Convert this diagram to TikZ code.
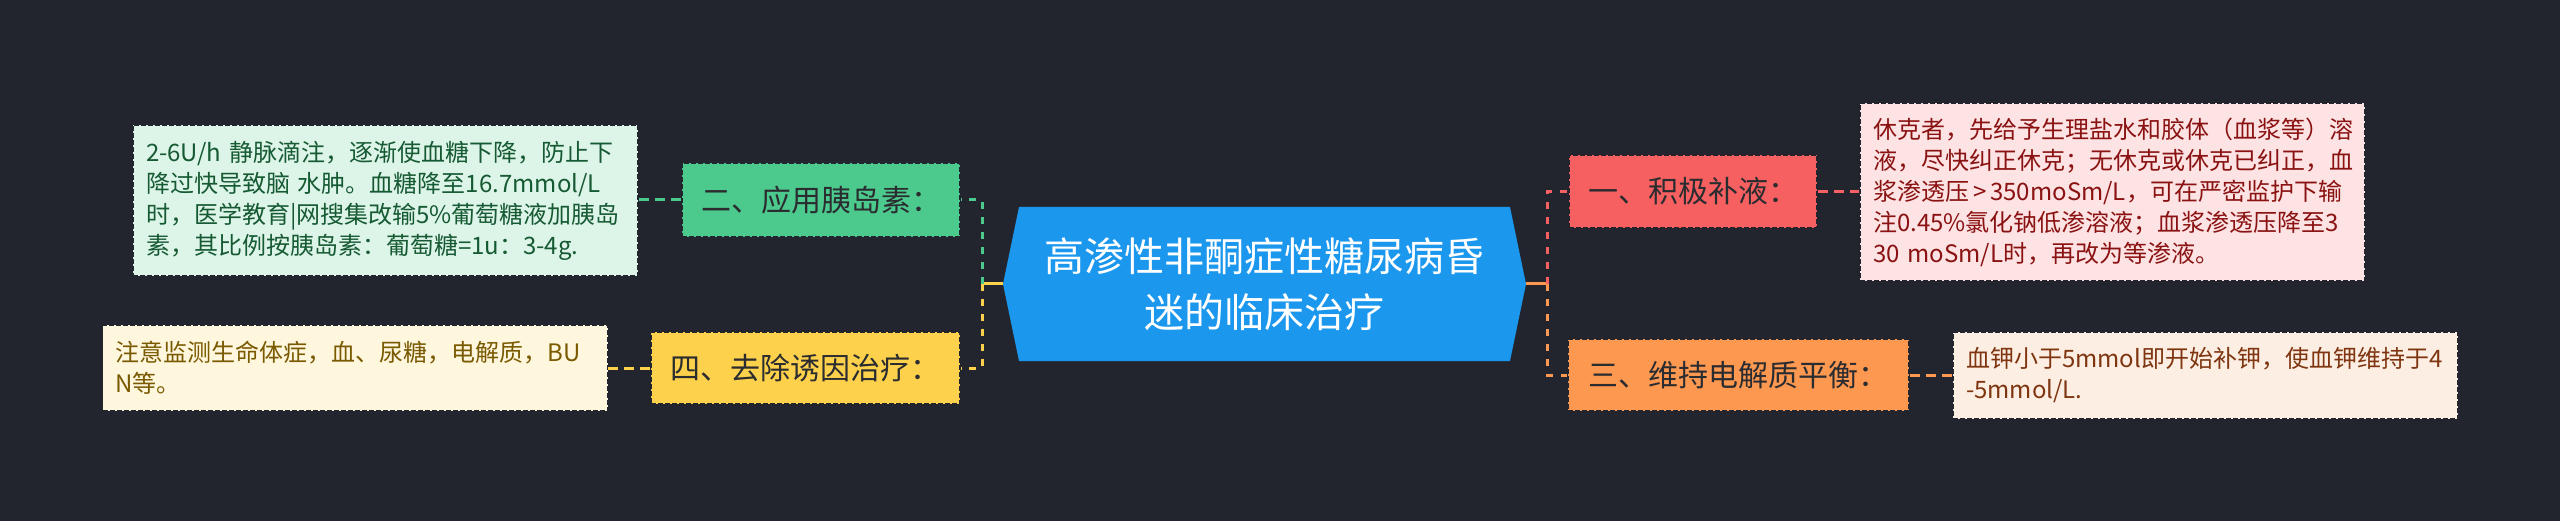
\documentclass[tikz,border=0pt]{standalone}
\usepackage{fontspec}
\setmainfont{Noto Sans CJK SC}
\usetikzlibrary{calc}
\definecolor{bg}{HTML}{22252E}
\definecolor{cblue}{HTML}{1B97EE}
\definecolor{cgrn}{HTML}{4CC98C}
\definecolor{cylw}{HTML}{FDD14B}
\definecolor{cred}{HTML}{F76060}
\definecolor{corg}{HTML}{FD9850}
\definecolor{cattext}{HTML}{2A2C30}
\definecolor{fgrn}{HTML}{DDF4E8}
\definecolor{tgrn}{HTML}{165A33}
\definecolor{fylw}{HTML}{FEF6DD}
\definecolor{tylw}{HTML}{7A5A00}
\definecolor{fred}{HTML}{FDE3E3}
\definecolor{tred}{HTML}{8A1212}
\definecolor{forg}{HTML}{FDEEE3}
\definecolor{torg}{HTML}{7E3510}
\begin{document}
\begin{tikzpicture}[x=1pt,y=-1pt,
  centre/.style={fill=bg, minimum width=523pt, minimum height=154pt, inner sep=0pt,
    align=center, text=white, font=\fontsize{40}{56}\selectfont,
    path picture={\fill[cblue] (path picture bounding box.west)
      -- ($(path picture bounding box.north west)+(16,0)$)
      -- ($(path picture bounding box.north east)+(-16,0)$)
      -- (path picture bounding box.east)
      -- ($(path picture bounding box.south east)+(-16,0)$)
      -- ($(path picture bounding box.south west)+(16,0)$) -- cycle;}},
  cat/.style={draw=bg, line width=1.3pt, dash pattern=on 5pt off 2pt, inner sep=0pt,
    text=cattext, font=\fontsize{30}{36}\selectfont},
  leaf/.style={draw=bg, line width=1.3pt, dash pattern=on 5pt off 2pt, inner xsep=13pt, inner ysep=0pt,
    text width=479pt, align=left, font=\fontsize{24}{31}\selectfont},
  trunk/.style={line width=3pt, dash pattern=on 7pt off 8pt},
  leafc/.style={line width=3pt, dash pattern=on 10pt off 6pt},
  solidc/.style={line width=3pt}]
\fill[bg] (0,0) rectangle (2560,521);
\useasboundingbox (0,0) rectangle (2560,521);

\node[centre] (c) at (1264.5,284) {高渗性非酮症性糖尿病昏\\迷的临床治疗};

\node[cat, fill=cgrn, minimum width=278pt, minimum height=74pt] (n2) at (821,200) {二、应用胰岛素：};
\node[cat, fill=cylw, minimum width=309pt, minimum height=72pt] (n4) at (805.5,368) {四、去除诱因治疗：};
\node[cat, fill=cred, minimum width=248pt, minimum height=73pt] (n1) at (1693,191.5) {一、积极补液：};
\node[cat, fill=corg, minimum width=341pt, minimum height=72pt] (n3) at (1738.5,375) {三、维持电解质平衡：};

\node[leaf, fill=fgrn, text=tgrn, minimum height=151pt] (l2) at (385.5,200.5)
  {2-6U/h 静脉滴注，逐渐使血糖下降，防止下\\降过快导致脑 水肿。血糖降至16.7mmol/L\\时，医学教育|网搜集改输5\%葡萄糖液加胰岛\\素，其比例按胰岛素：葡萄糖=1u：3-4g.};
\node[leaf, fill=fylw, text=tylw, minimum height=86pt] (l4) at (355,368)
  {注意监测生命体症，血、尿糖，电解质，BU\\N等。};
\node[leaf, fill=fred, text=tred, minimum height=178pt] (r1) at (2112.5,192)
  {休克者，先给予生理盐水和胶体（血浆等）溶\\液，尽快纠正休克；无休克或休克已纠正，血\\浆渗透压\,>\,350moSm/L，可在严密监护下输\\注0.45\%氯化钠低渗溶液；血浆渗透压降至3\\30 moSm/L时，再改为等渗液。};
\node[leaf, fill=forg, text=torg, minimum height=87pt] (r3) at (2205.5,375.5)
  {血钾小于5mmol即开始补钾，使血钾维持于4\\-5mmol/L.};

\coordinate (lt) at (982,284);
\coordinate (rt) at (1547,284);
\draw[cylw, solidc] (c.west) -- (lt);
\draw[cgrn, trunk] (lt) |- (n2.east);
\draw[cylw, trunk] (lt) |- (n4.east);
\draw[corg, solidc] (c.east) -- (rt);
\draw[cred, trunk] (rt) |- (n1.west);
\draw[corg, trunk] (rt) |- (n3.west);

\draw[cgrn, leafc] (n2.west) -- (n2.west -| l2.east);
\draw[cylw, leafc] (n4.west) -- (n4.west -| l4.east);
\draw[cred, leafc] (n1.east) -- (n1.east -| r1.west);
\draw[corg, leafc] (n3.east) -- (n3.east -| r3.west);
\end{tikzpicture}
\end{document}
